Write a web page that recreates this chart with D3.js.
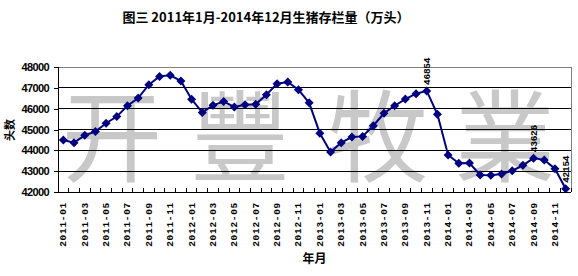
<!DOCTYPE html>
<html><head><meta charset="utf-8">
<script src="https://cdn.jsdelivr.net/npm/d3@7"></script>
<style>html,body{margin:0;padding:0;background:#fff;}svg{display:block;}</style>
</head><body>
<svg id="chart" width="578" height="276"></svg>
<script>
const title = "图三 2011年1月-2014年12月生猪存栏量（万头）";
const yTitle = "头数";
const xTitle = "年月";
const years = [2011, 2012, 2013, 2014];
const monthNums = ["01","02","03","04","05","06","07","08","09","10","11","12"];
const categories = years.flatMap(y => monthNums.map(m => y + "-" + m));
const values = [44500, 44370, 44720, 44900, 45300, 45620, 46140, 46510, 47150, 47550, 47600, 47330,
                46450, 45820, 46160, 46340, 46080, 46190, 46210, 46670, 47200, 47280, 46910, 46280,
                44820, 43920, 44370, 44640, 44670, 45180, 45780, 46140, 46460, 46720, 46854, 45730,
                43780, 43380, 43390, 42820, 42800, 42860, 43020, 43280, 43626, 43540, 43120, 42154];
const labeledPoints = ["2013-11", "2014-09", "2014-12"];
const yTicks = [42000, 43000, 44000, 45000, 46000, 47000, 48000];
const watermark = ["开", "豐", "牧", "業"];

const svg = d3.select("#chart");
const L = 58, R = 571, T = 67, B = 192;
const x = d3.scaleBand().domain(categories).range([L, R]).padding(0);
const y = d3.scaleLinear().domain([42000, 48000]).range([B, T]);

// watermark (kept inside the plot area)
const wmX = [112, 240, 378, 505];
svg.append("g").selectAll("text").data(watermark).join("text")
  .attr("x", (d, i) => wmX[i]).attr("y", 174)
  .attr("text-anchor", "middle")
  .attr("font-family", "Noto Sans CJK SC")
  .attr("font-size", 100).attr("font-weight", 400)
  .attr("fill", "#c8c8c8")
  .text(d => d);

// gridlines
svg.append("g").selectAll("line").data(yTicks.filter(v => v > 42000 && v < 48000)).join("line")
  .attr("x1", L).attr("x2", R).attr("y1", d => y(d)).attr("y2", d => y(d))
  .attr("stroke", "#000").attr("stroke-width", 1).attr("shape-rendering", "crispEdges");
// plot border top/right gray
svg.append("path").attr("d", `M${L},${T}H${R}V${B}`).attr("fill", "none")
  .attr("stroke", "#808080").attr("stroke-width", 1).attr("shape-rendering", "crispEdges");

// y axis
const yAxis = d3.axisLeft(y).tickValues(yTicks).tickSize(4).tickPadding(5).tickFormat(d3.format("d"));
const gy = svg.append("g").attr("transform", `translate(${L},0)`).call(yAxis);
gy.select(".domain").attr("stroke", "#000").attr("shape-rendering", "crispEdges");
gy.selectAll(".tick line").attr("stroke", "#000").attr("shape-rendering", "crispEdges");
gy.selectAll("text").attr("font-family", "Liberation Sans").attr("font-size", 11)
  .attr("font-weight", 700).attr("letter-spacing", -0.6).attr("fill", "#000");

// x axis (inside ticks at category boundaries)
svg.append("line").attr("x1", L).attr("x2", R).attr("y1", B).attr("y2", B)
  .attr("stroke", "#000").attr("shape-rendering", "crispEdges");
svg.append("g").selectAll("line").data(categories).join("line")
  .attr("x1", d => x(d) + x.bandwidth()).attr("x2", d => x(d) + x.bandwidth())
  .attr("y1", B).attr("y2", B - 4)
  .attr("stroke", "#000").attr("shape-rendering", "crispEdges");
svg.append("g").selectAll("text").data(categories.filter((d, i) => i % 2 === 0)).join("text")
  .attr("transform", d => `translate(${x(d) + x.bandwidth() / 2 + 3},202) rotate(-90)`)
  .attr("text-anchor", "end")
  .attr("font-family", "Liberation Mono").attr("font-size", 9.5).attr("font-weight", 700)
  .attr("letter-spacing", 0.7).attr("fill", "#000")
  .text(d => d);

// line & markers
const cx = d => x(d) + x.bandwidth() / 2;
const data = categories.map((c, i) => ({c, v: values[i]}));
svg.append("path").datum(data)
  .attr("d", d3.line().x(d => cx(d.c)).y(d => y(d.v)))
  .attr("fill", "none").attr("stroke", "#000080").attr("stroke-width", 2);
svg.append("g").selectAll("path").data(data).join("path")
  .attr("transform", d => `translate(${cx(d.c)},${y(d.v)})`)
  .attr("d", "M0,-4.5L4.5,0L0,4.5L-4.5,0Z")
  .attr("fill", "#000080");

// data labels
svg.append("g").selectAll("text").data(data.filter(d => labeledPoints.includes(d.c))).join("text")
  .attr("transform", d => `translate(${cx(d.c) + 3.5},${y(d.v) - 6}) rotate(-90)`)
  .attr("font-family", "Liberation Mono").attr("font-size", 9.5).attr("font-weight", 700)
  .attr("letter-spacing", -0.3).attr("fill", "#000")
  .text(d => d.v);

// titles
svg.append("text").attr("x", 266).attr("y", 22).attr("text-anchor", "middle")
  .attr("font-family", "Noto Sans CJK SC").attr("font-size", 13).attr("font-weight", 700)
  .text(title);
svg.append("text").attr("transform", "translate(14,130) rotate(-90)").attr("text-anchor", "middle")
  .attr("font-family", "Noto Sans CJK SC").attr("font-size", 11).attr("font-weight", 700)
  .text(yTitle);
svg.append("text").attr("x", (L + R) / 2).attr("y", 263).attr("text-anchor", "middle")
  .attr("font-family", "Noto Sans CJK SC").attr("font-size", 12).attr("font-weight", 700)
  .text(xTitle);
</script>
</body></html>
